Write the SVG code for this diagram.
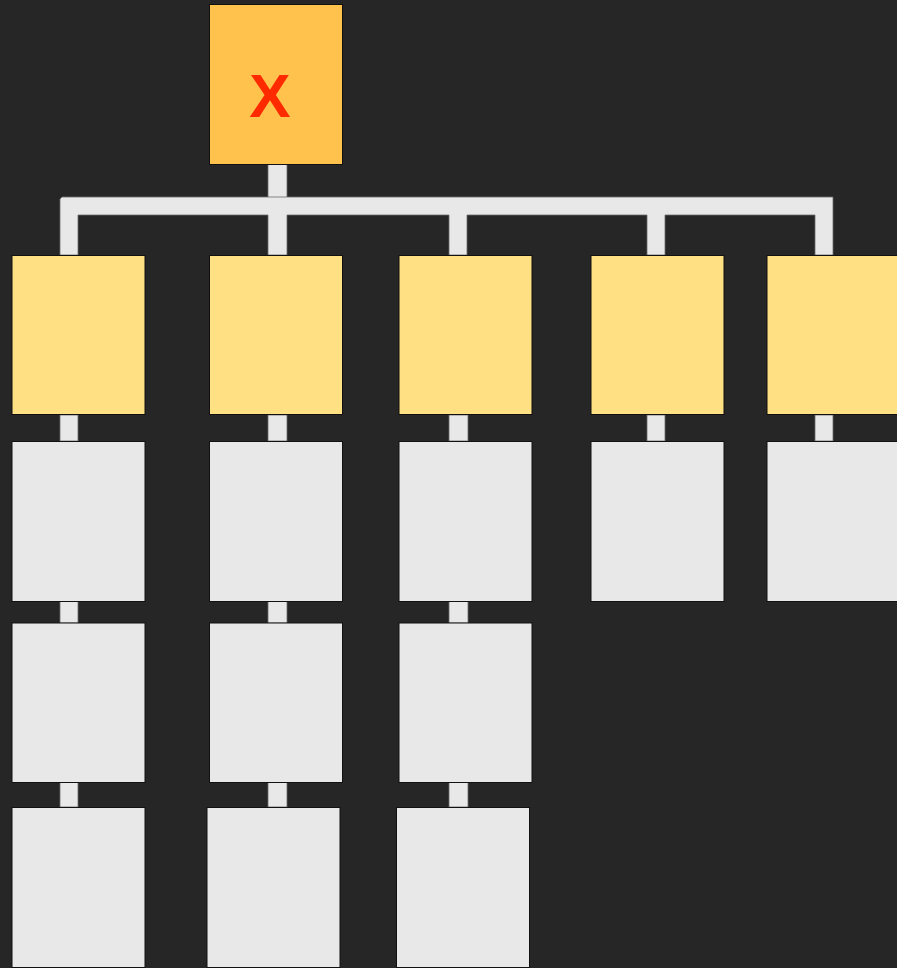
<svg xmlns="http://www.w3.org/2000/svg" width="897" height="968" viewBox="0 0 897 968">
<style>
.bg{fill:#262626}
.root{fill:#ffc24c;stroke:#111;stroke-width:1}
.lvl1{fill:#ffe083;stroke:#111;stroke-width:1}
.leaf{fill:#e8e8e8;stroke:#111;stroke-width:1}
.con{fill:#e8e8e8;stroke:#6a6a6a;stroke-width:0.8}
.lbl{font-family:"Liberation Sans",Arial,sans-serif;font-size:62px;font-weight:bold;fill:#ff2a00;text-anchor:middle}
</style>
<rect class="bg" x="0" y="0" width="897" height="968"/>
<g id="connectors">
<rect class="con" x="268" y="164" width="19" height="34"/>
<path class="con" d="M62 197 H833 V255 H815 V215 H665 V255 H647 V215 H467 V255 H449 V215 H287 V255 H268 V215 H78 V255 H60 V199 Z"/>
<rect class="con" x="60" y="415" width="18" height="26"/>
<rect class="con" x="268" y="415" width="19" height="26"/>
<rect class="con" x="449" y="415" width="19" height="26"/>
<rect class="con" x="647" y="415" width="18" height="26"/>
<rect class="con" x="815" y="415" width="18" height="26"/>
<rect class="con" x="60" y="601" width="18" height="22"/>
<rect class="con" x="268" y="601" width="19" height="22"/>
<rect class="con" x="449" y="601" width="19" height="22"/>
<rect class="con" x="60" y="782" width="18" height="25"/>
<rect class="con" x="268" y="782" width="19" height="25"/>
<rect class="con" x="449" y="782" width="19" height="25"/>
</g>
<g id="root"><rect class="root" x="209.5" y="4.5" width="133" height="160"/><text class="lbl" x="270" y="117">X</text></g>
<g id="a1"><rect class="lvl1" x="12" y="255.5" width="133" height="159"/></g>
<g id="b1"><rect class="lvl1" x="209.5" y="255.5" width="133" height="159"/></g>
<g id="c1"><rect class="lvl1" x="399" y="255.5" width="133" height="159"/></g>
<g id="d1"><rect class="lvl1" x="591" y="255.5" width="133" height="159"/></g>
<g id="e1"><rect class="lvl1" x="767" y="255.5" width="140" height="159"/></g>
<g id="a2"><rect class="leaf" x="12" y="441.5" width="133" height="160"/></g>
<g id="b2"><rect class="leaf" x="209.5" y="441.5" width="133" height="160"/></g>
<g id="c2"><rect class="leaf" x="399" y="441.5" width="133" height="160"/></g>
<g id="d2"><rect class="leaf" x="591" y="441.5" width="133" height="160"/></g>
<g id="e2"><rect class="leaf" x="767" y="441.5" width="140" height="160"/></g>
<g id="a3"><rect class="leaf" x="12" y="623" width="133" height="159.5"/></g>
<g id="b3"><rect class="leaf" x="209.5" y="623" width="133" height="159.5"/></g>
<g id="c3"><rect class="leaf" x="399" y="623" width="133" height="159.5"/></g>
<g id="a4"><rect class="leaf" x="12" y="807.5" width="133" height="160"/></g>
<g id="b4"><rect class="leaf" x="207" y="807.5" width="133" height="160"/></g>
<g id="c4"><rect class="leaf" x="396.5" y="807.5" width="133" height="160"/></g>
</svg>
